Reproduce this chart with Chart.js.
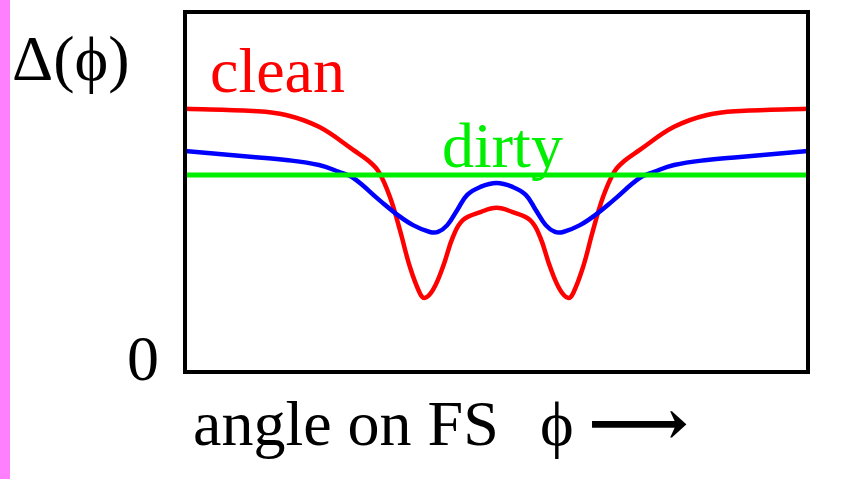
<!DOCTYPE html>
<html>
<head>
<meta charset="utf-8">
<script src="https://cdn.jsdelivr.net/npm/chart.js@4"></script>
<style>
	html, body { margin: 0; padding: 0; background: #fff; }
	#wrap { position: relative; width: 850px; height: 479px; }
</style>
</head>
<body>
<div id="wrap"><canvas id="gapChart" width="850" height="479"></canvas></div>
<script>
// gap along the Fermi surface, angle in arbitrary units (0..100), gap in arbitrary units
const cleanPhi = [0, 10.9, 16.2, 21.5, 27, 29.5, 31.1, 32.9, 34.5, 36.1, 37.7, 38.5, 39.8, 41.4, 43, 44.6, 47.4, 50,
	52.6, 55.4, 57, 58.6, 60.2, 61.5, 62.3, 63.9, 65.5, 67.1, 68.9, 70.5, 73, 78.5, 83.8, 89.1, 100];
const cleanDelta = [73.1, 72.5, 71.4, 68.1, 61.7, 58.6, 55.6, 48.6, 39.4, 29.2, 21.9, 20.6, 22.8, 29.2, 37.5, 42.2, 44.4, 45.6,
	44.4, 42.2, 37.5, 29.2, 22.8, 20.6, 21.9, 29.2, 39.4, 48.6, 55.6, 58.6, 61.7, 68.1, 71.4, 72.5, 73.1];

const midPhi = [0, 10.9, 16.2, 21.5, 24.7, 27, 31.3, 34, 36.6, 39.3, 40.6, 42.1, 43.7, 45.3, 47.4, 50,
	52.6, 54.7, 56.3, 57.9, 59.4, 60.7, 63.4, 66, 68.7, 73, 75.3, 78.5, 83.8, 89.1, 100];
const midDelta = [61.4, 59.7, 58.9, 57.5, 55.6, 53.9, 47.6, 43.8, 40.8, 38.9, 38.9, 40.8, 45, 49.2, 51.4, 52.5,
	51.4, 49.2, 45, 40.8, 38.9, 38.9, 40.8, 43.8, 47.6, 53.9, 55.6, 57.5, 58.9, 59.7, 61.4];

const dirtyPhi = [0, 100];
const dirtyDelta = [54.7, 54.7];

const serif = '"Liberation Serif", "Times New Roman", "DejaVu Serif", serif';

function toPoints(xs, ys) {
	return xs.map((x, i) => ({ x: x, y: ys[i] }));
}

// frame, side strip and the hand-placed labels
const decorations = {
	id: "decorations",
	beforeDraw(chart) {
		const ctx = chart.ctx;
		ctx.save();
		ctx.fillStyle = "#ff80ff";
		ctx.fillRect(0, 0, 10, chart.height);
		ctx.restore();
	},
	afterDraw(chart) {
		const ctx = chart.ctx;
		const a = chart.chartArea;
		ctx.save();
		ctx.strokeStyle = "#000";
		ctx.lineWidth = 4;
		ctx.strokeRect(a.left, a.top, a.right - a.left, a.bottom - a.top);

		ctx.textBaseline = "alphabetic";
		ctx.textAlign = "left";
		ctx.font = "64px " + serif;

		ctx.fillStyle = "#000";
		ctx.fillText("Δ(ϕ)", 12, 80);
		ctx.fillText("0", 127, 380);
		ctx.fillText("angle on FS", 193, 445);
		ctx.fillText("ϕ", 540, 445);

		// long arrow after the angle symbol
		ctx.save();
		ctx.translate(588, 445);
		ctx.scale(1.1, 1);
		ctx.font = "bold 64px " + serif;
		ctx.fillText("⟶", 0, 0);
		ctx.restore();

		ctx.fillStyle = "#ff0000";
		ctx.fillText("clean", 210, 92);
		ctx.fillStyle = "#00ee00";
		ctx.fillText("dirty", 442, 167);
		ctx.restore();
	},
};

new Chart(document.getElementById("gapChart"), {
	type: "line",
	data: {
		datasets: [
			{
				label: "dirty",
				data: toPoints(dirtyPhi, dirtyDelta),
				borderColor: "#00ee00",
				borderWidth: 5,
			},
			{
				label: "intermediate",
				data: toPoints(midPhi, midDelta),
				borderColor: "#0000ff",
				borderWidth: 4.5,
				tension: 0.4,
			},
			{
				label: "clean",
				data: toPoints(cleanPhi, cleanDelta),
				borderColor: "#ff0000",
				borderWidth: 4.5,
				tension: 0.4,
			},
		],
	},
	options: {
		responsive: false,
		animation: false,
		events: [],
		elements: { point: { radius: 0 } },
		layout: { padding: { left: 185, right: 42, top: 12, bottom: 107 } },
		scales: {
			x: { type: "linear", min: 0, max: 100, display: false },
			y: { type: "linear", min: 0, max: 100, display: false },
		},
		plugins: {
			legend: { display: false },
			tooltip: { enabled: false },
			title: { display: false },
		},
	},
	plugins: [decorations],
});
</script>
</body>
</html>
